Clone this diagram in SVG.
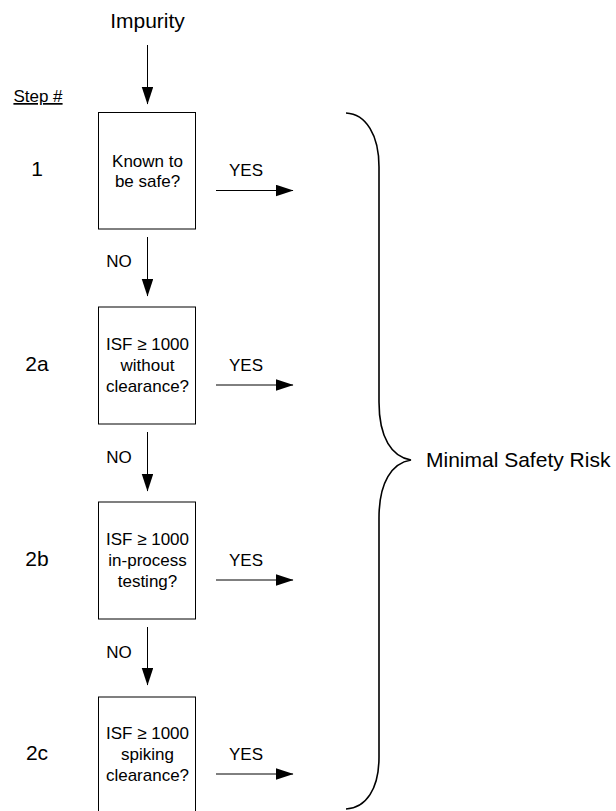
<svg xmlns="http://www.w3.org/2000/svg" width="616" height="811" viewBox="0 0 616 811">
  <defs>
    <marker id="head" markerUnits="userSpaceOnUse" markerWidth="18" markerHeight="12" refX="17" refY="5.75" orient="auto">
      <path d="M0,0 L17.5,5.75 L0,11.5 z" fill="#000"/>
    </marker>
    <style>
      text { font-family: "Liberation Sans", Arial, sans-serif; fill: #000; }
      .big { font-size: 21px; }
      .sm { font-size: 17px; }
      .mid { text-anchor: middle; }
      .box { fill: #fff; stroke: #000; stroke-width: 1; }
      .arrow { stroke: #000; stroke-width: 1; fill: none; marker-end: url(#head); }
      .brace { stroke: #000; stroke-width: 1.6; fill: none; }
    </style>
  </defs>
  <rect width="616" height="811" fill="#fff"/>

  <!-- headings -->
  <g id="impurity">
    <text class="big mid" x="147.5" y="28">Impurity</text>
  </g>
  <g id="step-header">
    <text class="sm mid" x="38" y="102" style="text-decoration: underline">Step #</text>
  </g>

  <!-- step numbers -->
  <g id="step-labels">
    <text class="big mid" x="37" y="176">1</text>
    <text class="big mid" x="37" y="371">2a</text>
    <text class="big mid" x="37" y="566">2b</text>
    <text class="big mid" x="37" y="760">2c</text>
  </g>

  <!-- decision boxes -->
  <g id="step1">
    <rect class="box" x="98.5" y="112.5" width="97" height="116.5"/>
    <text class="sm mid" x="147.5" y="167">Known to</text>
    <text class="sm mid" x="147.5" y="187">be safe?</text>
  </g>
  <g id="step2a">
    <rect class="box" x="98.5" y="307" width="97" height="117"/>
    <text class="sm mid" x="147.5" y="350">ISF ≥ 1000</text>
    <text class="sm mid" x="147.5" y="371">without</text>
    <text class="sm mid" x="147.5" y="392">clearance?</text>
  </g>
  <g id="step2b">
    <rect class="box" x="98.5" y="502" width="97" height="117"/>
    <text class="sm mid" x="147.5" y="545">ISF ≥ 1000</text>
    <text class="sm mid" x="147.5" y="566">in-process</text>
    <text class="sm mid" x="147.5" y="587">testing?</text>
  </g>
  <g id="step2c">
    <rect class="box" x="98.5" y="697" width="97" height="117"/>
    <text class="sm mid" x="147.5" y="739">ISF ≥ 1000</text>
    <text class="sm mid" x="147.5" y="760">spiking</text>
    <text class="sm mid" x="147.5" y="781">clearance?</text>
  </g>

  <!-- outcome -->
  <g id="outcome">
    <path class="brace" d="M346,113 C366,114 379,135 379,167 L379,402 C379,438 392,457 411,460 C392,463 379,482 379,518 L379,757 C379,789 366,808 346,809"/>
    <text class="big" x="426" y="467">Minimal Safety Risk</text>
  </g>

  <!-- connectors -->
  <g id="connectors">
    <line class="arrow" x1="147.5" y1="45" x2="147.5" y2="104"/>
    <line class="arrow" x1="147.5" y1="237" x2="147.5" y2="296"/>
    <line class="arrow" x1="147.5" y1="432" x2="147.5" y2="491"/>
    <line class="arrow" x1="147.5" y1="627" x2="147.5" y2="685"/>
    <line class="arrow" x1="216" y1="190.5" x2="293" y2="190.5"/>
    <line class="arrow" x1="216" y1="385" x2="293" y2="385"/>
    <line class="arrow" x1="216" y1="580" x2="293" y2="580"/>
    <line class="arrow" x1="216" y1="774" x2="293" y2="774"/>
    <text class="sm mid" x="119" y="267">NO</text>
    <text class="sm mid" x="119" y="463">NO</text>
    <text class="sm mid" x="119" y="658">NO</text>
    <text class="sm mid" x="246" y="176">YES</text>
    <text class="sm mid" x="246" y="371">YES</text>
    <text class="sm mid" x="246" y="566">YES</text>
    <text class="sm mid" x="246" y="760">YES</text>
  </g>
</svg>
